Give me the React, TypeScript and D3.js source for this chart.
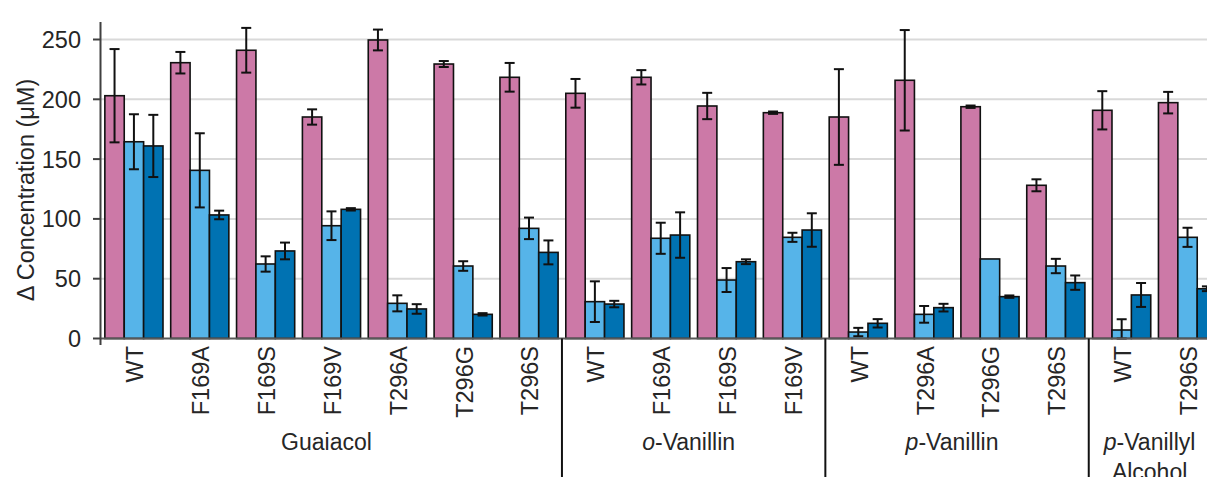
import React from "react";
import { scaleBand, scaleLinear } from "d3";

// mutants along the x axis, grouped by substrate
const categories = [
  "WT", "F169A", "F169S", "F169V", "T296A", "T296G", "T296S",
  "WT", "F169A", "F169S", "F169V",
  "WT", "T296A", "T296G", "T296S",
  "WT", "T296S",
];
const groupPrefixes = ["", "o", "p", "p"];
const groupNames = ["Guaiacol", "-Vanillin", "-Vanillin", "-Vanillyl"];
const groupSecondLine = ["", "", "", "Alcohol"];
const groupSizes = [7, 4, 4, 2];

// three series per mutant (no legend in the source)
const seriesKeys = ["s1", "s2", "s3"];
const seriesColors = ["#CC79A7", "#56B4E9", "#0072B2"];

const s1Values = [203, 230.6, 241, 185.2, 249.6, 229.5, 218.4, 205, 218.4, 194.4, 188.8, 185.2, 215.9, 193.8, 128.1, 190.8, 197.2];
const s1Errors = [39, 9, 18.7, 6.4, 8.7, 2.5, 12, 12, 6, 11, 1, 40, 42, 1, 5, 16, 9];
const s2Values = [164.5, 140.6, 62.3, 94.3, 29.4, 60.6, 92.1, 30.8, 83.8, 48.9, 84.6, 5.4, 20.2, 66.5, 60.6, 7.1, 84.6];
const s2Errors = [23, 31, 6.4, 12, 6.7, 4, 9, 17, 13, 10, 3.8, 3.5, 7, 0, 6, 9, 8];
const s3Values = [161, 103.3, 73.2, 108, 24.7, 20.2, 72, 28.8, 86.5, 64.2, 90.7, 12.7, 25.8, 35, 46.7, 36.4, 41.6];
const s3Errors = [26, 3.6, 7, 1, 4, 1, 10, 2.7, 19, 2, 14, 3.5, 3.2, 1, 6, 10, 2];

const yTicks = [0, 50, 100, 150, 200, 250];

const font = "'Liberation Sans', Arial, sans-serif";
const textColor = "#262626";

function App() {
  const width = 1207;
  const height = 477;
  const left = 101;
  const step = 65.85;
  const y0 = 338.5;

  const values = [s1Values, s2Values, s3Values];
  const errors = [s1Errors, s2Errors, s3Errors];

  const idx = categories.map((_, i) => String(i));
  const xScale = scaleBand()
    .domain(idx)
    .range([left, left + step * categories.length])
    .paddingInner(0.117)
    .paddingOuter(0.0585);
  const xInner = scaleBand()
    .domain(seriesKeys)
    .range([0, xScale.bandwidth()]);
  const yScale = scaleLinear().domain([0, 250]).range([y0, 39.5]);

  // group boundaries
  const bounds: number[] = [];
  let acc = 0;
  groupSizes.forEach(n => {
    bounds.push(acc);
    acc += n;
  });
  const edge = (i: number) => left + (i / categories.length) * (step * categories.length);

  return (
    <svg
      width={width}
      height={height}
      style={{ position: "absolute", left: 0, top: 0, background: "#fff" }}
      fontFamily={font}
    >
      {/* gridlines */}
      {yTicks.slice(1).map(t => (
        <line key={t} x1={left} x2={width} y1={yScale(t)} y2={yScale(t)} stroke="#D9D9D9" strokeWidth={2} />
      ))}

      {/* bars */}
      {categories.map((c, i) => (
        <g key={i} transform={`translate(${xScale(String(i))},0)`}>
          {seriesKeys.map((k, s) => (
            <rect
              key={k}
              x={xInner(k)}
              y={yScale(values[s][i])}
              width={xInner.bandwidth()}
              height={y0 - yScale(values[s][i])}
              fill={seriesColors[s]}
              stroke="#111"
              strokeWidth={1.6}
            />
          ))}
          {seriesKeys.map((k, s) => {
            const e = errors[s][i];
            if (!e) return null;
            const cx = (xInner(k) as number) + xInner.bandwidth() / 2;
            const hi = yScale(values[s][i] + e);
            const lo = yScale(Math.max(0, values[s][i] - e));
            return (
              <g key={k} stroke="#111" strokeWidth={2}>
                <line x1={cx} x2={cx} y1={hi} y2={lo} />
                <line x1={cx - 5} x2={cx + 5} y1={hi} y2={hi} />
                <line x1={cx - 5} x2={cx + 5} y1={lo} y2={lo} />
              </g>
            );
          })}
        </g>
      ))}

      {/* x axis */}
      <line x1={left} x2={width} y1={y0} y2={y0} stroke="#595959" strokeWidth={2} />

      {/* y axis */}
      <line x1={left - 0.5} x2={left - 0.5} y1={22} y2={345} stroke="#404040" strokeWidth={2} />
      {yTicks.map(t => (
        <g key={t}>
          <line x1={93} x2={left} y1={yScale(t)} y2={yScale(t)} stroke="#404040" strokeWidth={2} />
          <text x={81} y={yScale(t)} dy="0.36em" textAnchor="end" fontSize={23.5} fill={textColor}>
            {t}
          </text>
        </g>
      ))}
      <text
        transform={`translate(34,190) rotate(-90)`}
        textAnchor="middle"
        fontSize={23.5}
        fill={textColor}
      >
        Δ Concentration (μM)
      </text>

      {/* category labels */}
      {categories.map((c, i) => (
        <text
          key={i}
          transform={`translate(${(xScale(String(i)) as number) + xScale.bandwidth() / 2 + 1},346) rotate(-90)`}
          textAnchor="end"
          dy="0.36em"
          fontSize={23.5}
          fill={textColor}
        >
          {c}
        </text>
      ))}

      {/* group separators and names */}
      {bounds.slice(1).map(b => (
        <line key={b} x1={edge(b)} x2={edge(b)} y1={y0} y2={height} stroke="#111" strokeWidth={2} />
      ))}
      {groupNames.map((g, gi) => {
        const cx = (edge(bounds[gi]) + edge(bounds[gi] + groupSizes[gi])) / 2 - 5;
        return (
          <g key={gi}>
            <text x={cx} y={450} textAnchor="middle" fontSize={23} fill={textColor}>
              {groupPrefixes[gi] && <tspan fontStyle="italic">{groupPrefixes[gi]}</tspan>}
              <tspan>{g}</tspan>
            </text>
            {groupSecondLine[gi] && (
              <text x={cx} y={480} textAnchor="middle" fontSize={23} fill={textColor}>
                {groupSecondLine[gi]}
              </text>
            )}
          </g>
        );
      })}
    </svg>
  );
}

export default App;
